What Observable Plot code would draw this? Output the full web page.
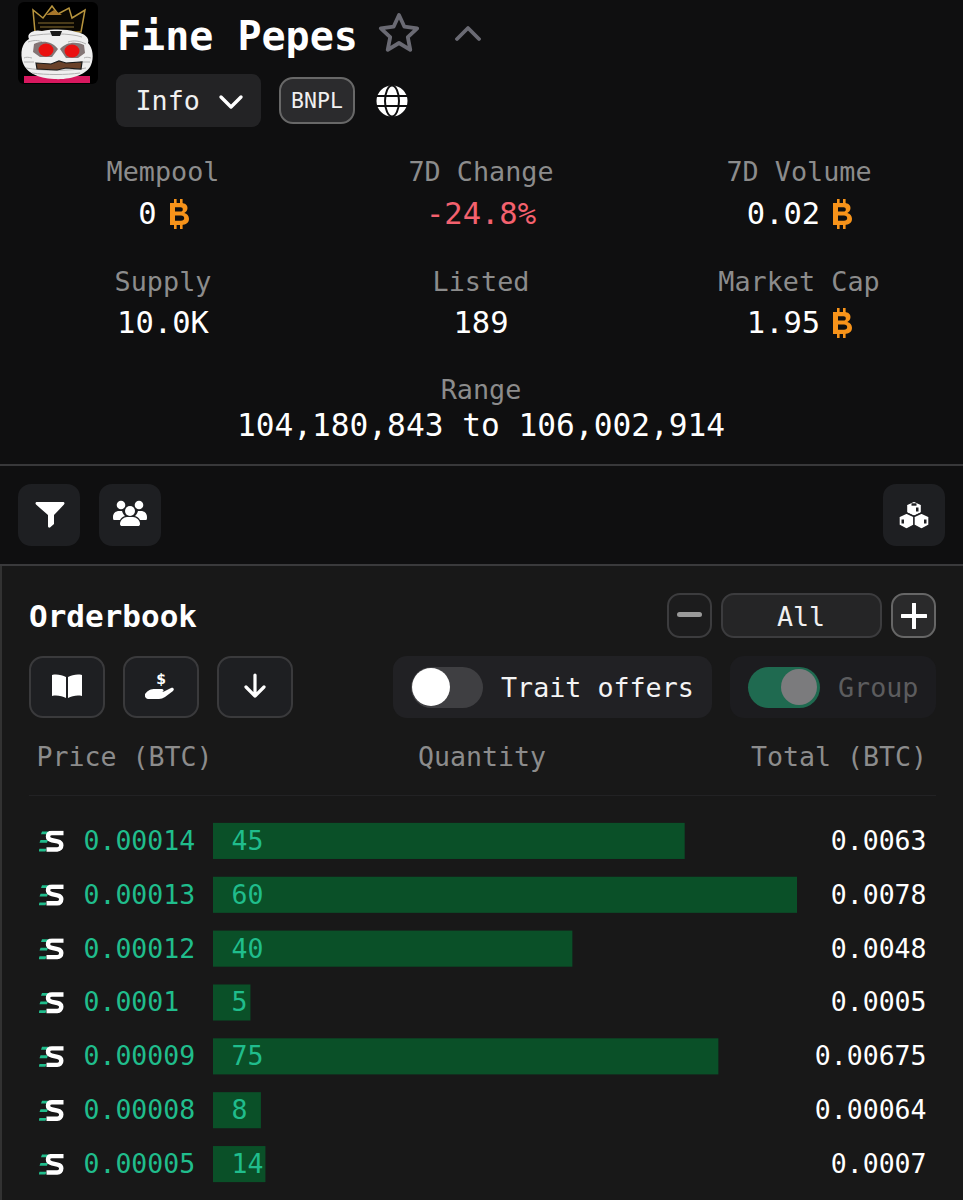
<!DOCTYPE html>
<html><head><meta charset="utf-8">
<script src="https://cdn.jsdelivr.net/npm/d3@7"></script>
<script src="https://cdn.jsdelivr.net/npm/@observablehq/plot@0.6"></script>
<style>
html,body{margin:0;padding:0;background:#0f0f10}
#page{position:relative;width:963px;height:1200px;overflow:hidden;background:#0f0f10;font-family:"DejaVu Sans Mono",monospace;color:#fff}
.t{position:absolute;white-space:pre;line-height:1}
.b{position:absolute;box-sizing:border-box}
.b svg,.i{position:absolute}
#chart{position:absolute;left:0;top:814px}
</style></head><body><div id="page"></div>
<script>
const prices = ["0.00014","0.00013","0.00012","0.0001","0.00009","0.00008","0.00005"];
const quantities = [45,60,40,5,75,8,14];
const totals = ["0.0063","0.0078","0.0048","0.0005","0.00675","0.00064","0.0007"];
const statLabels = ["Mempool","7D Change","7D Volume","Supply","Listed","Market Cap"];
const statValues = ["0","-24.8%","0.02","10.0K","189","1.95"];
const statHasBtc = [true,false,true,false,false,true];
const rangeText = "104,180,843 to 106,002,914";
const page = document.getElementById("page");
const GREEN="#20bd8c", MUTED="#8c8c8c", MONO='"DejaVu Sans Mono",monospace';

function text(s,x,y,size,color,anchor="middle",weight=400){
  const e=document.createElement("div");e.className="t";e.textContent=s;
  const tx=anchor==="middle"?"-50%":anchor==="end"?"-100%":"0";
  e.style.cssText=`left:${x}px;top:${y}px;font-size:${size}px;color:${color};font-weight:${weight};transform:translate(${tx},-50%)`;
  page.appendChild(e);return e;
}
function box(x,y,w,h,bg,radius=0,border=""){
  const e=document.createElement("div");e.className="b";
  e.style.cssText=`left:${x}px;top:${y}px;width:${w}px;height:${h}px;background:${bg};border-radius:${radius}px;${border?`border:${border};`:""}`;
  page.appendChild(e);return e;
}
function icon(x,y,w,h,inner,vb){
  const d=document.createElement("div");d.className="i";
  d.style.cssText=`left:${x}px;top:${y}px;width:${w}px;height:${h}px`;
  d.innerHTML=`<svg xmlns="http://www.w3.org/2000/svg" width="${w}" height="${h}" viewBox="${vb||`0 0 ${w} ${h}`}" style="display:block">${inner}</svg>`;
  page.appendChild(d);
}
function btc(x,y){
  icon(x,y,20,30,`<g fill="#f7931a"><rect x="5" y="0" width="2.6" height="5"/><rect x="11" y="0" width="2.6" height="5"/><rect x="5" y="25" width="2.6" height="5"/><rect x="11" y="25" width="2.6" height="5"/>
  <path d="M1 4H12C16.500 4 18.500 6.300 18.500 9C18.500 11.300 17.300 13 15.300 14C18 14.800 20 16.800 20 19.800C20 23.800 17 26 12.500 26H1Z M6 8.300V12.600H11.500C13 12.600 13.800 11.700 13.800 10.400C13.800 9.100 13 8.300 11.500 8.300Z M6 16.400V21.700H12C14 21.700 15.200 20.700 15.200 19C15.200 17.300 14 16.400 12 16.400Z" fill-rule="evenodd"/></g>`);
}

// avatar
icon(18,2,80,82,`<rect x="0" y="0" width="80" height="82" rx="6" fill="#000"/>
<path d="M6 74h66v7H6z" fill="#d8185f"/>
<path d="M15 8l2 22h46l4-22-13 8-3-10-11 6-6-8-9 12z" fill="#0a0702" stroke="#b8953e" stroke-width="1.500"/>
<path d="M28 13l8-5 8 5z" fill="#a8762a"/><path d="M20 21h36M22 25h34" stroke="#8a7030" stroke-width="1.200"/>
<path d="M4 58C2 46 6 40 11 37 8 31 16 27 24 29 36 27 48 27 58 30 66 31 72 36 70 41 75 46 76 56 73 63 69 73 52 78 36 77 20 76 7 71 4 58Z" fill="#efefef"/>
<g stroke="#a9a9a9" stroke-width=".9" fill="none"><path d="M12 34c16-3 40-3 52 1M10 40c6-2 10-2 14 0M50 40c6-2 12-1 18 2M6 56c2-1 4-1 8 0M66 56c2-1 4-1 7 0M8 66c16 3 46 3 60 0M14 71c14 2 34 2 48 0M6 60h10M62 60h10"/></g>
<path d="M32 29h12l-2 5H34z" fill="#1a1a1a"/>
<path d="M16 42c8-4 18-3 24 5l-6 8H22l-7-5zM42 47c6-7 16-8 24-4l1 8-7 5H48z" fill="#2a1010" opacity=".55"/>
<ellipse cx="28" cy="48" rx="7.500" ry="6.500" fill="#ea100f"/><ellipse cx="54" cy="49" rx="7.500" ry="6.500" fill="#ea100f"/>
<path d="M18 61l15 1 8-3 7 2 16-1-1 7-15-1-9 2-20-1z" fill="#6a4129" stroke="#1a1a1a" stroke-width="1.200"/>`);

// title row
text("Fine Pepes",117,36,40,"#fff","start",700);
icon(377,11,44,44,`<path d="M22 4l5.400 11.700 12.800 1.600-9.400 8.800 2.500 12.700L22 32l-11.300 6.800 2.500-12.700-9.400-8.800 12.800-1.600z" fill="none" stroke="#6a6a73" stroke-width="3.800" stroke-linejoin="round"/>`);
icon(455,24,26,18,`<path d="M2 15L13 4l11 11" fill="none" stroke="#6a6a73" stroke-width="3.800" stroke-linecap="round" stroke-linejoin="round"/>`);

box(116,74,145,53,"#232325",9);
text("Info",135.500,101,26.700,"#f0f0f0","start");
icon(218,94,26,16,`<path d="M3 3l10 10L23 3" fill="none" stroke="#fff" stroke-width="3.400" stroke-linecap="round" stroke-linejoin="round"/>`);
box(279,77,76,47,"#2b2b2d",14,"2px solid #686868");
text("BNPL",317,101,21.500,"#f0f0f0");
icon(376,85,32,32,`<circle cx="16" cy="16" r="15.500" fill="#fff"/><path d="M0 11h32M0 21h32" stroke="#0f0f10" stroke-width="2"/><ellipse cx="16" cy="16" rx="7" ry="15.500" fill="none" stroke="#0f0f10" stroke-width="2"/>`);

// stats
const cx=[163,481,799], ly=[172,282], vy=[214,323];
statLabels.forEach((l,i)=>{
  const c=cx[i%3], r=Math.floor(i/3);
  text(l,c,ly[r],26.800,MUTED);
  const col=l==="7D Change"?"#f4616e":"#fff";
  if(statHasBtc[i]){
    text(statValues[i],c-15.500,vy[r],30.500,col);
    btc(c+(statValues[i].length>1?33:6),vy[r]-15);
  } else text(statValues[i],c,vy[r],30.500,col);
});
text("Range",481,390,26.800,MUTED);
text(rangeText,481,426,31.200,"#fff");
box(0,464,963,2,"#38383a");

// tool buttons
box(18,484,62,62,"#1e1f22",13);
icon(35,501,30,28,`<path d="M2 1h26c1.500 0 2 1.500 1 2.600L19 14v9l-4 3.500c-1 .5-2-.2-2-1.300V14L1 3.600C0 2.500.5 1 2 1z" fill="#fff"/>`);
box(99,484,62,62,"#1e1f22",13);
icon(113,500,34,29,`<g fill="#fff"><circle cx="8" cy="5" r="4.300"/><circle cx="26" cy="5" r="4.300"/><circle cx="17" cy="11" r="5"/><path d="M0 17c0-4 3-6 6-6h3c1 3 2 4 3 5-3 1-4 2-5 4H1c-1 0-1-2-1-3z"/><path d="M34 17c0-4-3-6-6-6h-3c-1 3-2 4-3 5 3 1 4 2 5 4h6c1 0 1-2 1-3z"/><path d="M7 24c0-4 4-7 7-7h6c3 0 7 3 7 7 0 1.500-1 2-2 2H9c-1 0-2-.5-2-2z"/></g>`);
box(883,484,62,62,"#1e1f22",13);
icon(898,500,32,30,`<g fill="#fff" stroke="#1e1f22" stroke-width="1.400" stroke-linejoin="round"><path d="M16 1l7.500 3.500v8.500l-7.500 3.500-7.500-3.500v-8.500z"/><path d="M8.500 13l7.500 3.500v8.500l-7.500 4L1 25v-8.500z"/><path d="M23.500 13L31 16.500v8.500l-7.500 4-7.500-4v-8.500z"/></g><g fill="#1e1f22"><rect x="13.500" y="3.300" width="5" height="2.400"/><rect x="18" y="7.500" width="2.500" height="4"/><rect x="3.500" y="19.500" width="2.500" height="4"/><rect x="26" y="19.500" width="2.500" height="4"/></g>`);
box(0,564,963,2,"#3a3a3c");

// panel
box(0,566,963,634,"#181818");
box(0,566,2,634,"#323232");
text("Orderbook",29,616,31,"#fff","start",700);
box(667,593,45,45,"#1c1c1d",13,"2px solid #3c3c3e");
icon(677,612,25,6,`<rect x="0" y="0" width="25" height="5" rx="2.500" fill="#9a9a9a"/>`);
box(721,593,161,45,"#252526",13,"2px solid #3c3c3e");
text("All",801,617,26.700,"#f0f0f0");
box(891,593,45,45,"#2a2a2b",13,"2px solid #666");
icon(901,603,26,26,`<path d="M13 1v24M1 13h24" stroke="#fff" stroke-width="4" stroke-linecap="round"/>`);

[29,123,217].forEach(x=>box(x,656,76,62,"#1e1f22",14,"2px solid #3a3a3c"));
icon(51,674,32,26,`<path d="M15 3C11 1 6 0 1 1v21c5-1 10 0 14 2zM17 3c4-2 9-3 14-2v21c-5-1-10 0-14 2z" fill="#fff"/>`);
icon(145,672,34,30,`<g fill="#fff"><path d="M0 22c3-4 6-5 10-5h7c2 0 2 3 0 3h-5 6l8-4c2-1 4 1 2 3l-8 6c-2 1-4 2-6 2H3C1 27-1 24 0 22z"/></g><text x="16" y="12" font-family="DejaVu Sans" font-weight="700" font-size="14" fill="#fff" text-anchor="middle">$</text>`);
icon(244,673,22,26,`<path d="M11 2v21M2 14l9 9 9-9" fill="none" stroke="#fff" stroke-width="3.200" stroke-linecap="round" stroke-linejoin="round"/>`);

box(393,656,319,62,"#212124",14);
box(411,667,72,41,"#3f3f42",20.500);
box(412,668,38,38,"#fff",19);
text("Trait offers",501,688,26.700,"#f4f4f4","start");
box(730,656,206,62,"#1c1c1f",14);
box(748,667,72,41,"#1f6a50",20.500);
box(781,669,36,36,"#7b7b7d",18);
text("Group",838,688,26.700,"#5c5c5e","start");

text("Price (BTC)",36.500,757,26.600,MUTED,"start");
text("Quantity",482,757,26.600,MUTED);
text("Total (BTC)",927,757,26.600,MUTED,"end");
box(29,795,907,1,"#222224");

// orderbook rows, drawn by Plot
const rows = prices.map((p,i)=>({price:p,quantity:quantities[i],total:totals[i],value:+totals[i]}));
const logo = "data:image/svg+xml;utf8,"+encodeURIComponent(`<svg xmlns="http://www.w3.org/2000/svg" width="26" height="22" viewBox="0 0 26 22">
<g fill="#20bd8c"><path d="M3.500 1H10L9 3.800H2.500z"/><path d="M2 9.500h7.500L8.500 12.300H1z"/><path d="M1 18.200h7L7 21H0z"/></g>
<path d="M25 2.500H13.500c-2.700 0-4 1.400-4 3.500 0 2 1.300 3.200 4 3.800l5.500 1.200c2.600.6 3.800 1.800 3.800 3.800 0 2.500-1.700 4.200-4 4.200H8" fill="none" stroke="#fff" stroke-width="4.400"/></svg>`);
const chart = Plot.plot({
  width:963,height:377,margin:0,
  style:{background:"transparent",fontFamily:MONO,overflow:"visible"},
  x:{domain:[0,0.0078],range:[213,797],axis:null},
  y:{domain:prices,range:[0,377],paddingInner:0.33,paddingOuter:0.165,round:false,axis:null},
  marks:[
    Plot.barX(rows,{x:"value",y:"price",fill:"#0a5028"}),
    Plot.image(rows,{y:"price",frameAnchor:"left",dx:51,src:()=>logo,width:26,height:22}),
    Plot.text(rows,{y:"price",text:"price",frameAnchor:"left",dx:83,textAnchor:"start",fill:GREEN,fontSize:26.500}),
    Plot.text(rows,{y:"price",text:d=>String(d.quantity),frameAnchor:"left",dx:231,textAnchor:"start",fill:GREEN,fontSize:26.500}),
    Plot.text(rows,{y:"price",text:"total",frameAnchor:"right",dx:-37,textAnchor:"end",fill:"#fff",fontSize:26.500})
  ]
});
chart.id="chart";
page.appendChild(chart);
</script></body></html>
